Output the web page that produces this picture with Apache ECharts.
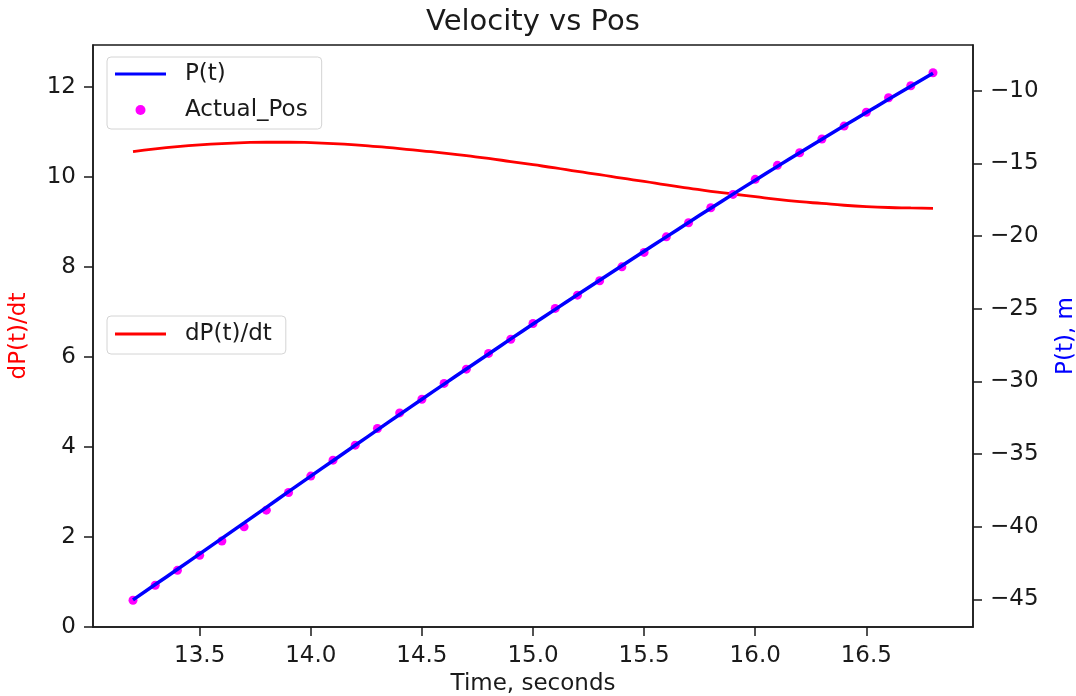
<!DOCTYPE html>
<html><head><meta charset="utf-8">
<script src="https://cdn.jsdelivr.net/npm/echarts@6/dist/echarts.min.js"></script>
<style>html,body{margin:0;padding:0;background:#fff}#c{width:1076px;height:696px}</style>
</head><body><div id="c"></div><script>
const time = [13.2,13.3,13.4,13.5,13.6,13.7,13.8,13.9,14.0,14.1,14.2,14.3,14.4,14.5,14.6,14.7,14.8,14.9,15.0,
  15.1,15.2,15.3,15.4,15.5,15.6,15.7,15.8,15.9,16.0,16.1,16.2,16.3,16.4,16.5,16.6,16.7,16.8];
const velocity = [10.56,10.62,10.67,10.71,10.74,10.76,10.77,10.77,10.76,10.74,10.71,10.67,10.63,10.58,10.53,10.47,10.41,10.34,10.27,
  10.20,10.12,10.05,9.97,9.90,9.82,9.75,9.68,9.62,9.56,9.50,9.45,9.41,9.37,9.34,9.32,9.31,9.30];
const position = [-45.03,-43.98,-42.93,-41.87,-40.80,-39.74,-38.67,-37.59,-36.52,-35.46,-34.40,-33.34,-32.28,-31.23,-30.19,-29.15,-28.12,-27.08,-26.06,
  -25.05,-24.04,-23.04,-22.05,-21.05,-20.06,-19.07,-18.09,-17.12,-16.16,-15.21,-14.27,-13.34,-12.42,-11.51,-10.60,-9.70,-8.80];
const actualPos = [-45.06,-44.03,-43.00,-41.96,-40.98,-40.01,-38.86,-37.65,-36.52,-35.42,-34.39,-33.24,-32.17,-31.23,-30.14,-29.16,-28.08,-27.10,-26.02,
  -24.98,-24.07,-23.08,-22.12,-21.13,-20.06,-19.09,-18.06,-17.14,-16.10,-15.14,-14.27,-13.33,-12.44,-11.49,-10.49,-9.66,-8.77];
const xTicks = [13.5,14.0,14.5,15.0,15.5,16.0,16.5];
const leftTicks = [0,2,4,6,8,10,12];
const rightTicks = [-45,-40,-35,-30,-25,-20,-15,-10];

const FONT = 'DejaVu Sans';
const INK = '#1a1a1a';
const LINE_ICON = 'path://M0,0 L51,0 L51,3.2 L0,3.2 Z';
const chart = echarts.init(document.getElementById('c'), null, {renderer:'canvas'});
const axisLine = {show:true, lineStyle:{color:INK, width:1.5}};
const axisTick = (vals)=>({show:true, inside:false, length:9, lineStyle:{color:INK, width:1.5}, customValues: vals});
const legendCommon = {
  orient:'vertical', left:107, itemWidth:51, itemHeight:10, itemGap:12,
  backgroundColor:'rgba(255,255,255,0.8)', borderColor:'#d4d4d4', borderWidth:1, borderRadius:4,
  textStyle:{fontFamily:FONT, fontSize:23, color:INK, lineHeight:24, padding:[0,0,0,14]},
  selectedMode:false
};
chart.setOption({
  animation:false,
  textStyle:{fontFamily:FONT},
  title:{text:'Velocity vs Pos', left:533, textAlign:'center', top:8, padding:0,
    textStyle:{fontFamily:FONT, fontSize:29, fontWeight:'normal', color:INK}},
  grid:{left:93, right:103, top:45, bottom:69, outerBoundsMode:'none', containLabel:false,
    show:true, borderColor:INK, borderWidth:1.5, backgroundColor:'transparent'},
  legend:[
    Object.assign({}, legendCommon, {top:57, padding:[5,14,7,8],
      data:[{name:'P(t)', icon:LINE_ICON}, {name:'Actual_Pos', icon:'circle'}]}),
    Object.assign({}, legendCommon, {top:316, padding:[6,14,8,8],
      data:[{name:'dP(t)/dt', icon:LINE_ICON}]})
  ],
  xAxis:{type:'value', min:13.02, max:16.98, splitLine:{show:false},
    axisLine:axisLine, axisTick:axisTick(xTicks),
    axisLabel:{customValues:xTicks, margin:18, fontSize:23, color:INK, fontFamily:FONT, formatter:v=>v.toFixed(1)},
    name:'Time, seconds', nameLocation:'middle', nameGap:44,
    nameTextStyle:{fontSize:23, color:INK, fontFamily:FONT}},
  yAxis:[
    {type:'value', position:'left', min:0, max:12.93, splitLine:{show:false},
      axisLine:axisLine, axisTick:axisTick(leftTicks),
      axisLabel:{customValues:leftTicks, margin:17, fontSize:23, color:INK, fontFamily:FONT},
      name:'dP(t)/dt', nameLocation:'middle', nameGap:62,
      nameTextStyle:{fontSize:23, color:'#ff0000', fontFamily:FONT}},
    {type:'value', position:'right', min:-46.90, max:-6.86, splitLine:{show:false},
      axisLine:axisLine, axisTick:axisTick(rightTicks),
      axisLabel:{customValues:rightTicks, margin:17, fontSize:23, color:INK, fontFamily:FONT,
        formatter:v=>String(v).replace('-', '\u2212')},
      name:'P(t), m', nameLocation:'middle', nameGap:82,
      nameTextStyle:{fontSize:23, color:'#0000ff', fontFamily:FONT}}
  ],
  series:[
    {name:'dP(t)/dt', type:'line', yAxisIndex:0, symbol:'none', smooth:0.5, z:2,
      color:'#ff0000', lineStyle:{color:'#ff0000', width:2.8},
      data:time.map((t,i)=>[t, velocity[i]])},
    {name:'Actual_Pos', type:'scatter', yAxisIndex:1, symbol:'circle', symbolSize:9, z:3,
      color:'#ff00ff', itemStyle:{color:'#ff00ff', opacity:1},
      data:time.map((t,i)=>[t, actualPos[i]])},
    {name:'P(t)', type:'line', yAxisIndex:1, symbol:'none', smooth:0.5, z:4,
      color:'#0000ff', lineStyle:{color:'#0000ff', width:3.5},
      data:time.map((t,i)=>[t, position[i]])}
  ]
});
</script></body></html>
